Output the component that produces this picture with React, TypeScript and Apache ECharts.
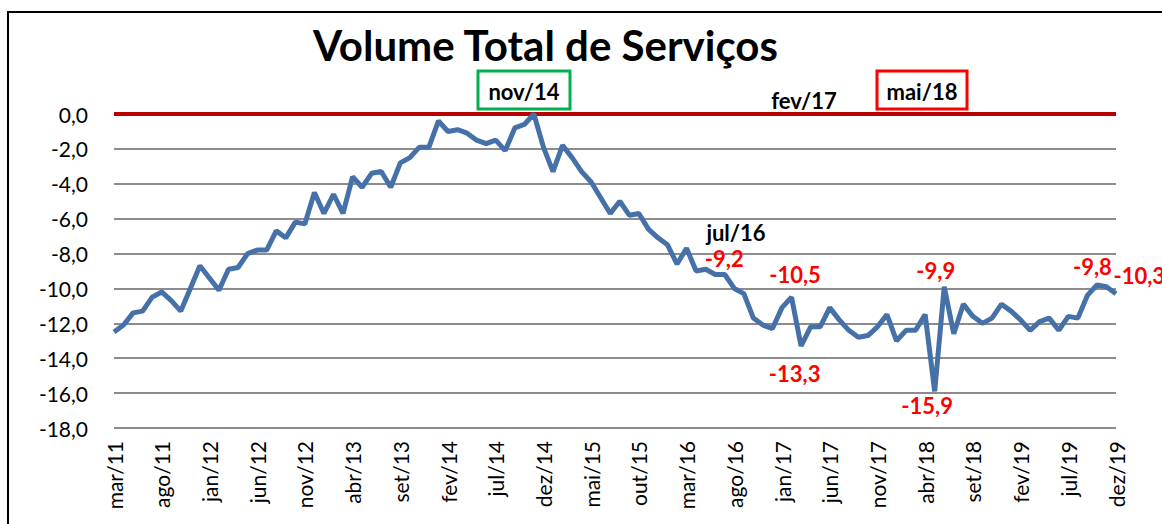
import React, { useEffect, useRef } from "react";
import * as echarts from "echarts";

// ---- data ----
const MONTH_NAMES = ["jan", "fev", "mar", "abr", "mai", "jun", "jul", "ago", "set", "out", "nov", "dez"];
const YEARS = [11, 12, 13, 14, 15, 16, 17, 18, 19];
const FIRST_MONTH_INDEX = 2; // mar/11

const categories: string[] = [];
YEARS.forEach((y, yi) => {
  MONTH_NAMES.forEach((m, mi) => {
    if (yi === 0 && mi < FIRST_MONTH_INDEX) return;
    categories.push(`${m}/${y}`);
  });
});

const volumeValues = [
  -12.5, -12.1, -11.4, -11.3, -10.5, -10.2, -10.7, -11.3, -10.0, -8.7,
  -9.4, -10.1, -8.9, -8.8, -8.0, -7.8, -7.8, -6.7, -7.1, -6.2,
  -6.3, -4.5, -5.7, -4.6, -5.7, -3.6, -4.2, -3.4, -3.3, -4.2,
  -2.8, -2.5, -1.9, -1.9, -0.4, -1.0, -0.9, -1.1, -1.5, -1.7,
  -1.5, -2.1, -0.8, -0.6, 0.0, -1.9, -3.3, -1.8, -2.5, -3.3,
  -3.9, -4.8, -5.7, -5.0, -5.8, -5.7, -6.6, -7.1, -7.5, -8.6,
  -7.7, -9.0, -8.9, -9.2, -9.2, -10.0, -10.3, -11.7, -12.1, -12.3,
  -11.1, -10.5, -13.3, -12.2, -12.2, -11.1, -11.8, -12.4, -12.8, -12.7,
  -12.2, -11.5, -13.0, -12.4, -12.4, -11.5, -15.9, -9.9, -12.6, -10.9,
  -11.6, -12.0, -11.7, -10.9, -11.3, -11.8, -12.4, -11.9, -11.7, -12.4,
  -11.6, -11.7, -10.4, -9.8, -9.9, -10.3,
];

const Y_MIN = -18;
const Y_MAX = 0;
const Y_STEP = 2;

const TITLE = "Volume Total de Serviços";
const labeledMonths = ["jul/16", "fev/17", "mar/17", "mai/18", "jun/18", "out/19", "dez/19"];

// ---- styling ----
const FONT = "Lato";
const fmt = (v: number) => v.toFixed(1).replace(".", ",");

const labelPlacement: Record<string, any> = {
  "jul/16": { position: [0, -15], align: "center" },
  "fev/17": { position: [4, -22], align: "center" },
  "mar/17": { position: [-6, 28], align: "center" },
  "mai/18": { position: [-7, 15], align: "center" },
  "jun/18": { position: [-8, -16], align: "center" },
  "out/19": { position: [-4, -18], align: "center" },
  "dez/19": { position: [-2, -18], align: "left" },
};

export default function App() {
  const ref = useRef<HTMLDivElement>(null);

  useEffect(() => {
    if (!ref.current) return;
    const chart = echarts.init(ref.current, null, { renderer: "svg" });

    const seriesData = volumeValues.map((v, i) => {
      const cat = categories[i];
      if (labeledMonths.includes(cat)) {
        const p = labelPlacement[cat];
        return {
          value: v,
          label: {
            show: true,
            position: p.position,
            align: p.align,
            verticalAlign: "middle",
            color: "#FF0000",
            fontWeight: "bold",
            fontSize: 22,
            fontFamily: FONT,
            formatter: (pp: any) => fmt(pp.value),
          },
        };
      }
      return v;
    });

    const boxText = (text: string, cx: number, cy: number) => ({
      type: "text",
      x: cx,
      y: cy,
      style: {
        text,
        fill: "#000",
        font: `bold 22px ${FONT}`,
        textAlign: "center",
        textVerticalAlign: "middle",
      },
      z: 10,
    });

    chart.setOption({
      animation: false,
      backgroundColor: "#fff",
      textStyle: { fontFamily: FONT },
      title: {
        text: TITLE,
        left: 308,
        top: 19,
        textStyle: { fontFamily: FONT, fontWeight: "bold", fontSize: 42, color: "#000" },
      },
      grid: { left: 114, right: 46, top: 114, bottom: 96, containLabel: false },
      xAxis: {
        type: "category",
        data: categories,
        boundaryGap: false,
        axisLine: { show: false, onZero: false },
        axisTick: { show: false },
        splitLine: { show: false },
        axisLabel: {
          interval: 4,
          rotate: 90,
          margin: 13,
          fontSize: 21,
          color: "#000",
          fontFamily: FONT,
        },
      },
      yAxis: {
        type: "value",
        min: Y_MIN,
        max: Y_MAX,
        interval: Y_STEP,
        axisLine: { show: false },
        axisTick: { show: false },
        axisLabel: {
          formatter: (v: number) => fmt(v),
          fontSize: 21,
          color: "#000",
          margin: 26,
          fontFamily: FONT,
        },
        splitLine: { show: true, lineStyle: { color: "#8C8C8C", width: 2 } },
      },
      series: [
        {
          type: "line",
          data: seriesData,
          symbol: "circle",
          symbolSize: 1,
          showSymbol: true,
          showAllSymbol: true,
          lineStyle: { color: "#4571A8", width: 5 },
          itemStyle: { color: "rgba(0,0,0,0)" },
          z: 3,
          markLine: {
            silent: true,
            symbol: "none",
            label: { show: false },
            lineStyle: { color: "#B80000", width: 4, type: "solid" },
            data: [{ yAxis: 0 }],
            z: 2,
          },
        },
      ],
      graphic: [
        {
          type: "rect",
          shape: { x: 8, y: 12, width: 1300, height: 700 },
          style: { fill: "none", stroke: "#000", lineWidth: 2 },
          silent: true,
          z: 0,
        },
        {
          type: "rect",
          shape: { x: 478, y: 71, width: 92, height: 38 },
          style: { fill: "#fff", stroke: "#00B050", lineWidth: 3 },
          z: 9,
        },
        boxText("nov/14", 524, 91),
        {
          type: "rect",
          shape: { x: 877, y: 71, width: 90, height: 38 },
          style: { fill: "#fff", stroke: "#FF0000", lineWidth: 3 },
          z: 9,
        },
        boxText("mai/18", 922, 91),
        boxText("fev/17", 804, 100),
        boxText("jul/16", 736, 232),
      ],
    });

    return () => chart.dispose();
  }, []);

  return (
    <div
      ref={ref}
      style={{ position: "fixed", left: 0, top: 0, width: 1162, height: 524, background: "#fff" }}
    />
  );
}
